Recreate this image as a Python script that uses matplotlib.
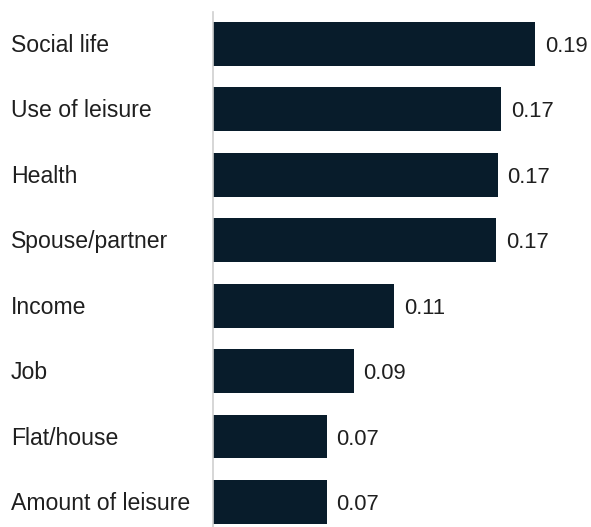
import matplotlib
matplotlib.use("Agg")
import matplotlib.pyplot as plt
import matplotlib.transforms as mtransforms
import numpy as np

categories = ["Social life", "Use of leisure", "Health", "Spouse/partner",
              "Income", "Job", "Flat/house", "Amount of leisure"]
values = [0.19, 0.170, 0.168, 0.167, 0.107, 0.083, 0.067, 0.067]
value_labels = ["0.19", "0.17", "0.17", "0.17", "0.11", "0.09", "0.07", "0.07"]

bar_color = "#081c2b"
text_color = "#1f1f1f"

plt.rcParams['font.family'] = ['Liberation Sans', 'DejaVu Sans']

W, H = 591, 527
fig = plt.figure(figsize=(W / 100, H / 100), dpi=100)
ax = fig.add_axes([213 / W, 0, (W - 213) / W, (H - 11.7) / H])

y = np.arange(len(categories))
bars = ax.barh(y, values, height=0.67, color=bar_color)

# axis scale: 0.19 -> 322 px
ax.set_xlim(0, (W - 213) / (322 / 0.19))
ax.set_ylim(7 + 25 / 65.5, -32 / 65.5)

for s in ["top", "right", "bottom"]:
    ax.spines[s].set_visible(False)
ax.spines["left"].set_color("#cfcfcf")
ax.spines["left"].set_linewidth(1.2)
ax.set_xticks([])
ax.set_yticks([])

trans = mtransforms.blended_transform_factory(fig.transFigure, ax.transData)
offs = mtransforms.ScaledTranslation(0, -1.5 / 100, fig.dpi_scale_trans)
for yi, cat in zip(y, categories):
    ax.text(11 / W, yi, cat, transform=trans + offs, ha="left", va="center",
            fontsize=16.6, color=text_color)

for b, lab in zip(bars, value_labels):
    ax.annotate(lab, (b.get_width(), b.get_y() + b.get_height() / 2),
                xytext=(7, -2), textcoords="offset points",
                ha="left", va="center", fontsize=15.8, color=text_color)

fig.savefig("out.png", dpi=100)
